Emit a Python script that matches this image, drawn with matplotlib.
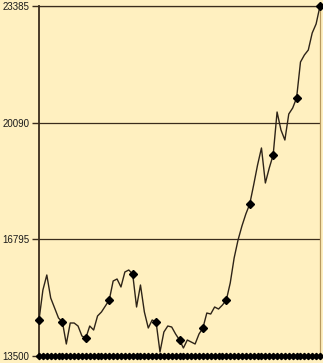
import matplotlib
matplotlib.use("Agg")
from matplotlib import pyplot as plt

# index values (one point every ~3.9 px)
values = [14517, 15364, 15788, 15138, 14856, 14573,
          14460, 13839, 14432, 14432, 14347, 14065,
          14008, 14347, 14234, 14630, 14743, 14912,
          15082, 15618, 15675, 15449, 15872, 15929,
          15816, 14884, 15505, 14743, 14291, 14517,
          14460, 13613, 14178, 14347, 14319, 14121,
          13952, 13726, 13952, 13895, 13839, 14121,
          14291, 14714, 14686, 14884, 14827, 14940,
          15082, 15562, 16268, 16776, 17172, 17511,
          17793, 18330, 18894, 19375, 18386, 18810,
          19177, 20391, 19883, 19600, 20335, 20504,
          20787, 21803, 22001, 22142, 22622, 22877,
          23385]
y_ticks = [13500, 16795, 20090, 23385]
x = list(range(len(values)))
base = [y_ticks[0]] * len(values)

bg = "#fff0c0"
ink = "#2e2418"

fig = plt.figure(figsize=(3.23, 3.63), dpi=100, facecolor=bg)
ax = fig.add_axes([39 / 323, 7 / 363, 281 / 323, 350 / 363], facecolor=bg)

# gridlines at the labelled levels
for v in y_ticks[1:]:
    ax.axhline(v, color="#3a2c1c", lw=0.9, zorder=1)

ax.plot(x, values, color=ink, lw=1.0, zorder=3, clip_on=False)
ax.plot(x[::6], values[::6], ls="none", marker="D", ms=3.6,
        color="black", zorder=4, clip_on=False)
# row of markers along the bottom
ax.plot(x, base, color="black", lw=2.2, marker="D", ms=3.2,
        zorder=4, clip_on=False)

ax.set_xlim(0, len(values) - 1)
ax.set_ylim(y_ticks[0], y_ticks[-1])
ax.set_yticks(y_ticks)
ax.set_yticklabels([str(v) for v in y_ticks], fontsize=7,
                   family="Liberation Sans", color="#1a1a1a")
ax.set_xticks([])
ax.tick_params(axis="y", length=5, width=1, color="#3a2c1c", pad=2)

ax.spines["left"].set_color("#3a2c1c")
ax.spines["left"].set_linewidth(1.3)
ax.spines["top"].set_color("#3a2c1c")
ax.spines["top"].set_linewidth(0.9)
ax.spines["right"].set_color("#b89a60")
ax.spines["right"].set_linewidth(0.9)
ax.spines["bottom"].set_visible(False)

fig.savefig("out.png", dpi=100, facecolor=bg)
